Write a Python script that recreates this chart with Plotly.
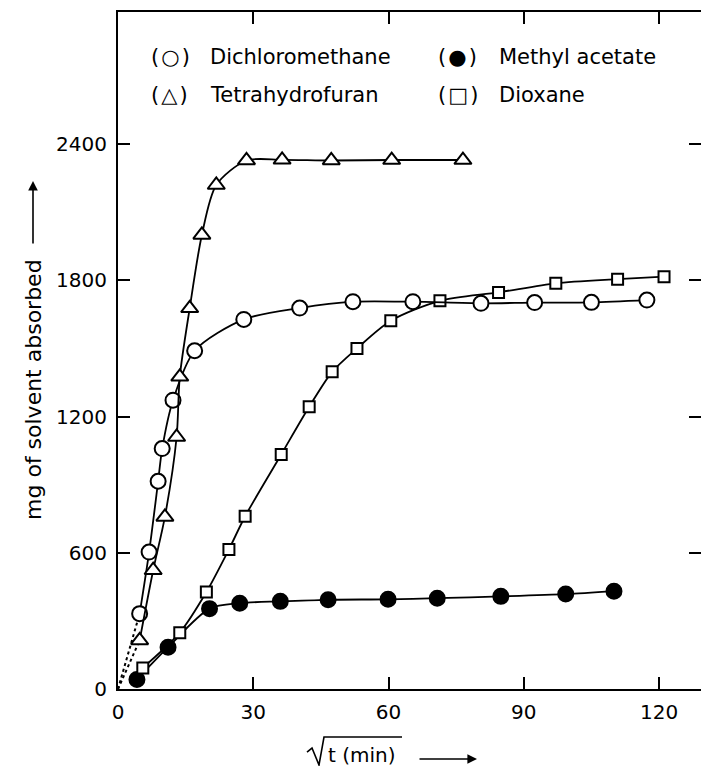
import plotly.graph_objects as go

# ---- data ----
dcm_x = [4.8, 6.9, 8.9, 9.8, 12.2, 17.0, 27.9, 40.3, 52.1, 65.4, 80.5, 92.4, 105.0, 117.3]
dcm_y = [332, 603, 915, 1059, 1272, 1490, 1628, 1678, 1706, 1706, 1699, 1702, 1703, 1713]

thf_x = [4.8, 7.8, 10.4, 13.0, 13.7, 15.9, 18.6, 21.8, 28.5, 36.4, 47.3, 60.7, 76.5]
thf_y = [214, 523, 758, 1110, 1375, 1677, 2000, 2220, 2328, 2331, 2328, 2330, 2330]

dio_x = [5.5, 13.7, 19.6, 24.6, 28.2, 36.2, 42.4, 47.5, 53.0, 60.5, 71.4, 84.4, 97.1, 110.8, 121.1]
dio_y = [93, 248, 427, 615, 761, 1033, 1243, 1397, 1500, 1622, 1710, 1747, 1787, 1805, 1816]

ma_x = [4.2, 11.1, 20.3, 27.0, 36.0, 46.6, 59.9, 70.8, 84.9, 99.3, 110.0]
ma_y = [42, 184, 354, 378, 386, 393, 395, 400, 408, 418, 431]

origin_x = [0]
origin_y = [0]

x_ticks = [0, 30, 60, 90, 120]
y_ticks = [0, 600, 1200, 1800, 2400]
x_range = [0, 129.3]
y_range = [0, 2982]

FONT = "DejaVu Sans"
W, H = 701, 766
ML, MR, MT, MB = 118, 0, 12, 77

def px2paper(px, py):
    pw = W - ML - MR
    ph = H - MT - MB
    return (px - ML) / pw, (H - MB - py) / ph

fig = go.Figure()

# dotted initial segments from the origin
for xs, ys in [(thf_x, thf_y), (dcm_x, dcm_y)]:
    fig.add_trace(go.Scatter(x=origin_x + xs[:1], y=origin_y + ys[:1], mode="lines",
                             line=dict(color="black", width=2, dash="dot"),
                             hoverinfo="skip", showlegend=False))

series = [
    (ma_x, ma_y, "circle", 15, "black"),
    (dio_x, dio_y, "square", 11, "white"),
    (dcm_x, dcm_y, "circle", 15, "white"),
    (thf_x, thf_y, "triangle-up", 15, "white"),
]
for xs, ys, sym, sz, fill in series:
    fig.add_trace(go.Scatter(
        x=xs, y=ys, mode="lines+markers",
        line=dict(color="black", width=1.8, shape="spline", smoothing=0.8),
        marker=dict(symbol=sym, size=sz, color=fill, line=dict(color="black", width=2)),
        showlegend=False))

# invisible trace to carry the mirrored (top / right) axes
fig.add_trace(go.Scatter(x=x_range, y=y_range, xaxis="x2", yaxis="y2", mode="markers",
                         marker=dict(opacity=0), hoverinfo="skip", showlegend=False))

tick_common = dict(ticks="inside", ticklen=12, tickwidth=2, tickcolor="black",
                   showgrid=False, zeroline=False)

fig.update_layout(
    xaxis=dict(range=x_range, tickvals=x_ticks, ticktext=[str(v) for v in x_ticks],
               showline=True, linecolor="black", linewidth=2, ticklabelstandoff=4,
               tickfont=dict(family=FONT, size=20, color="black"), **tick_common),
    yaxis=dict(range=y_range, tickvals=y_ticks, ticktext=[str(v) for v in y_ticks],
               showline=True, linecolor="black", linewidth=2, ticklabelstandoff=5,
               tickfont=dict(family=FONT, size=20, color="black"), **tick_common),
    xaxis2=dict(range=x_range, tickvals=x_ticks, overlaying="x", side="top",
                showline=True, linecolor="black", linewidth=2, showticklabels=False,
                **tick_common),
    yaxis2=dict(range=y_range, tickvals=y_ticks, overlaying="y", side="right",
                showline=False, showticklabels=False, **tick_common),
)

annotations = []
HS = "\u200a"
legend_rows = [
    ("(" + HS + "○" + HS + ")", "Dichloromethane", 149, 208, 57),
    ("(" + HS + "●" + HS + ")", "Methyl acetate", 436, 497, 57),
    ("(" + HS + "△" + HS + ")", "Tetrahydrofuran", 149, 208, 95),
    ("(" + HS + "□" + HS + ")", "Dioxane", 436, 497, 95),
]
for sym, name, sx, nx, py in legend_rows:
    for txt, x0 in [(sym, sx), (name, nx)]:
        xp, yp = px2paper(x0, py)
        annotations.append(dict(text=txt, x=xp, y=yp, xref="paper", yref="paper",
                                xanchor="left", yanchor="middle", showarrow=False,
                                font=dict(family=FONT, size=21, color="black")))

# y-axis title
xp, yp = px2paper(33, 390)
annotations.append(dict(text="mg of solvent absorbed", x=xp, y=yp, xref="paper", yref="paper",
                        textangle=-90, showarrow=False, xanchor="center", yanchor="middle",
                        font=dict(family=FONT, size=22, color="black")))
xp, yp = px2paper(33, 181)
annotations.append(dict(text="", x=xp, y=yp, xref="paper", yref="paper", ax=0, ay=64,
                        showarrow=True, arrowhead=2, arrowsize=1.2, arrowwidth=1.6, arrowcolor="black"))

# x-axis title
xp, yp = px2paper(326, 755)
annotations.append(dict(text="t (min)", x=xp, y=yp, xref="paper", yref="paper",
                        showarrow=False, xanchor="left", yanchor="middle",
                        font=dict(family=FONT, size=20, color="black")))
xp, yp = px2paper(477, 759)
annotations.append(dict(text="", x=xp, y=yp, xref="paper", yref="paper", ax=-59, ay=0,
                        showarrow=True, arrowhead=2, arrowsize=1.2, arrowwidth=1.6, arrowcolor="black"))

# radical sign with overbar
rad_pts = [(307, 752), (312, 748), (319, 765), (324, 737), (402, 737)]
path = ""
for i, (px, py) in enumerate(rad_pts):
    a, b = px2paper(px, py)
    path += ("M" if i == 0 else "L") + f"{a:.5f},{b:.5f} "
shapes = [dict(type="path", xref="paper", yref="paper", path=path.strip(),
               line=dict(color="black", width=1.6))]

fig.update_layout(width=W, height=H, margin=dict(l=ML, r=MR, t=MT, b=MB),
                  paper_bgcolor="white", plot_bgcolor="white",
                  annotations=annotations, shapes=shapes)

fig.write_html("out.html")
